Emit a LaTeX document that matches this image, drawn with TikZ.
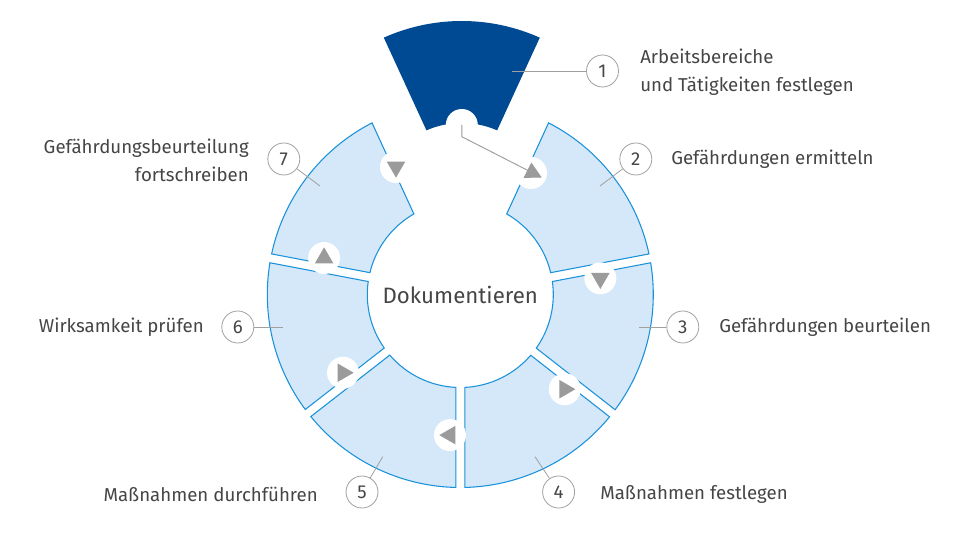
\documentclass[tikz,border=0pt]{standalone}
\usepackage{fontspec}
\setmainfont{Fira Sans}
\usetikzlibrary{arrows.meta,shapes.geometric}

\definecolor{segfill}{HTML}{D4E8F9}
\definecolor{segline}{HTML}{1A92DA}
\definecolor{darkblue}{HTML}{004A93}
\definecolor{trigray}{HTML}{9B9B9B}
\definecolor{linegray}{HTML}{A0A0A0}
\definecolor{textgray}{HTML}{454545}

\newcommand\lblfont{\fontsize{14}{21}\selectfont}
\def\ringin{93}
\def\ringout{193}
%#1 estilo, #2 angulo inicio, #3 angulo fin, #4/#5 media ranura
\newcommand\ringseg[5]{%
  \pgfmathsetmacro\aoa{#2+asin(#4/\ringout)}%
  \pgfmathsetmacro\aob{#3-asin(#5/\ringout)}%
  \pgfmathsetmacro\aia{#2+asin(#4/\ringin)}%
  \pgfmathsetmacro\aib{#3-asin(#5/\ringin)}%
  \path[#1] (\aoa:\ringout) arc[start angle=\aoa, end angle=\aob, radius=\ringout]
    -- (\aib:\ringin) arc[start angle=\aib, end angle=\aia, radius=\ringin] -- cycle;}

\begin{document}
\begin{tikzpicture}[x=0.75pt, y=0.75pt,
    seg/.style={fill=segfill, draw=segline, line width=0.8pt},
    tri/.style={regular polygon, regular polygon sides=3, fill=trigray, inner sep=0pt, minimum size=16pt},
    badge/.style={circle, draw=linegray, line width=0.6pt, minimum size=24pt, inner sep=0pt, text=textgray, font=\lblfont},
    lbl/.style={inner sep=0pt, text=textgray, font=\lblfont},
    leader/.style={draw=linegray, line width=0.6pt}]
            \useasboundingbox (-460.3,-240.5) rectangle (509.7,294.5);

            %Segmento 1 (fuera)
            \begin{scope}[shift={(1.5,82.5)}]
                \def\ringin{89}\def\ringout{191}
                \ringseg{fill=darkblue}{65.3}{114.7}{2}{2}
            \end{scope}

            %Segmentos 2-7
            \ringseg{seg}{10.8}{65.3}{4.5}{8.5}
            \ringseg{seg}{-38}{10.8}{4.5}{4.5}
            \ringseg{seg}{-90}{-38}{4.5}{4.5}
            \ringseg{seg}{-142.1}{-90}{4.5}{4.5}
            \ringseg{seg}{-190.8}{-142.1}{4.5}{4.5}
            \ringseg{seg}{114.7}{169.2}{8.5}{4.5}

            %Circulos blancos
            \coordinate (n1) at (1.5,169.5);
            \coordinate (c71) at (-64.3,127.5);
            \coordinate (c12) at (70.7,121.5);
            \foreach \n/\a in {23/6.6, 34/-42.2, 45/-94.2, 56/-146.3, 67/165}
                \coordinate (c\n) at (\a:141);
            \foreach \c in {n1,c71,c12,c23,c34,c45,c56,c67}
                \fill[white] (\c) circle (16);

            %Flechas
            \node(t71) at (c71) [tri, shape border rotate=180] {};
            \node(t23) at (c23) [tri, shape border rotate=180] {};
            \node(t34) at (c34) [tri, shape border rotate=-90] {};
            \node(t45) at (c45) [tri, shape border rotate=90] {};
            \node(t56) at (c56) [tri, shape border rotate=-90] {};
            \node(t67) at (c67) [tri] {};

            \coordinate (k1) at (1.5,157.8);
            \coordinate (t12) at (81.4,117);
            \draw[draw=trigray, line width=0.7pt, -{Triangle[length=12pt, width=12.75pt]}] (n1) -- (k1) -- (t12);

            %Centro
            \node(doku) at (0,0) [lbl, font=\fontsize{16.7}{20}\selectfont] {Dokumentieren};

            %Numeros
            \node(b1) at (142.2,223.5) [badge] {1};
            \node(b2) at (175.5,135.5) [badge] {2};
            \node(b3) at (222.5,-32.5) [badge] {3};
            \node(b4) at (98.3,-197.5) [badge] {4};
            \node(b5) at (-98.3,-197.5) [badge] {5};
            \node(b6) at (-222.5,-32.5) [badge] {6};
            \node(b7) at (-176.5,135.5) [badge] {7};

            %Lineas
            \coordinate (p1) at (51.7,223.5);
            \coordinate (p2) at (139.7,108.5);
            \coordinate (p3) at (179,-32.5);
            \coordinate (p4) at (74.7,-162.2);
            \coordinate (p5) at (-77.6,-162.2);
            \coordinate (p6) at (-177.6,-32.5);
            \coordinate (p7) at (-140.3,108.5);
            \foreach \i in {1,...,7}
                \draw[leader] (p\i) -- (b\i);

            %Textos
            \node(l1) at (179.7,222.5) [lbl, anchor=west, align=left] {Arbeitsbereiche\\und Tätigkeiten festlegen};
            \node(l2) at (210.7,135.5) [lbl, anchor=west] {Gefährdungen ermitteln};
            \node(l3) at (258.7,-32.5) [lbl, anchor=west] {Gefährdungen beurteilen};
            \node(l4) at (139.7,-199.5) [lbl, anchor=west] {Maßnahmen festlegen};
            \node(l5) at (-142.3,-199.5) [lbl, anchor=east] {Maßnahmen durchführen};
            \node(l6) at (-256.3,-32.5) [lbl, anchor=east] {Wirksamkeit prüfen};
            \node(l7) at (-211.3,134.5) [lbl, anchor=east, align=right] {Gefährdungsbeurteilung\\fortschreiben};
        \end{tikzpicture}
\end{document}
